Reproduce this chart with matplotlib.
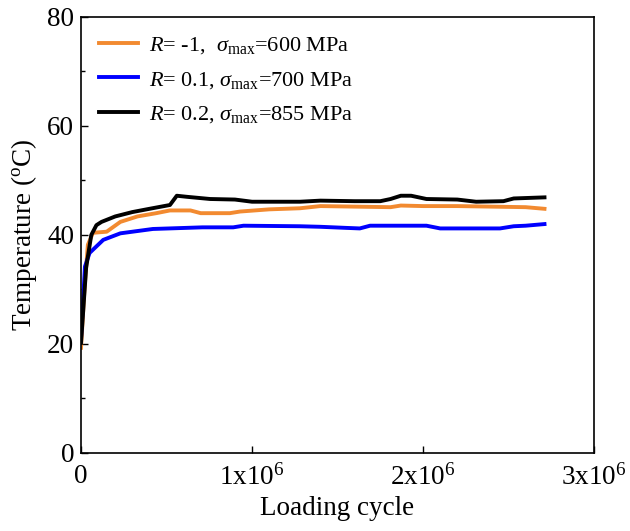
import matplotlib
matplotlib.use("Agg")
import matplotlib.pyplot as plt
from matplotlib.ticker import FixedLocator, MultipleLocator

plt.rcParams['font.family'] = ['Liberation Serif', 'DejaVu Serif']
plt.rcParams['mathtext.fontset'] = 'custom'
plt.rcParams['mathtext.rm'] = 'Liberation Serif'
plt.rcParams['mathtext.it'] = 'Liberation Serif:italic'
plt.rcParams['mathtext.bf'] = 'Liberation Serif:bold'

# Data (cycles in units of 1e6, temperature in °C)
x_orange = [0.0, 0.02, 0.04, 0.07, 0.15, 0.23, 0.33, 0.44, 0.52, 0.64, 0.70, 0.87, 0.93, 1.1, 1.28, 1.4,
            1.6, 1.81, 1.87, 2.0, 2.2, 2.4, 2.6, 2.71]
y_orange = [19.3, 30.0, 38.2, 40.4, 40.6, 42.4, 43.4, 44.0, 44.5, 44.5, 44.0, 44.0, 44.3, 44.7, 44.9, 45.3,
            45.2, 45.1, 45.4, 45.3, 45.3, 45.2, 45.1, 44.8]

x_blue = [0.0, 0.023, 0.05, 0.13, 0.23, 0.42, 0.71, 0.89, 0.95, 1.28, 1.4, 1.55, 1.63, 1.69, 1.9, 2.02,
          2.1, 2.3, 2.45, 2.53, 2.6, 2.71]
y_blue = [21.0, 34.2, 36.7, 39.1, 40.3, 41.1, 41.4, 41.4, 41.7, 41.6, 41.5, 41.3, 41.2, 41.7, 41.7, 41.7,
          41.2, 41.2, 41.2, 41.6, 41.7, 42.0]

x_black = [0.0, 0.03, 0.06, 0.09, 0.12, 0.2, 0.3, 0.4, 0.52, 0.56, 0.62, 0.755, 0.9, 1.0, 1.28, 1.4, 1.6, 1.75,
           1.81, 1.87, 1.93, 2.02, 2.2, 2.31, 2.47, 2.53, 2.71]
y_black = [20.2, 34.0, 40.0, 41.8, 42.4, 43.4, 44.2, 44.8, 45.5, 47.2, 47.0, 46.6, 46.5, 46.1, 46.1, 46.3, 46.2, 46.2,
           46.6, 47.2, 47.2, 46.6, 46.5, 46.1, 46.2, 46.7, 46.9]

labels = [r'$R$= -1,  $\sigma_{\rm max}$=600 MPa',
          r'$R$= 0.1, $\sigma_{\rm max}$=700 MPa',
          r'$R$= 0.2, $\sigma_{\rm max}$=855 MPa']
colors = ['#F28A30', '#0000FF', '#000000']

xticks = [0, 1e6, 2e6, 3e6]
xticklabels = ['0', r'1x10$^6$', r'2x10$^6$', r'3x10$^6$']
yticks = [0, 20, 40, 60, 80]

fig = plt.figure(figsize=(6.3, 5.31), dpi=100)
ax = fig.add_axes([0.1286, 0.147, 0.8144, 0.821])

for xs, ys, c, lab in zip([x_orange, x_blue, x_black], [y_orange, y_blue, y_black], colors, labels):
    ax.plot([v * 1e6 for v in xs], ys, color=c, lw=2.8, label=lab)

ax.set_xlim(0, 3e6)
ax.set_ylim(0, 80)
ax.xaxis.set_major_locator(FixedLocator(xticks))
ax.set_xticklabels(xticklabels)
ax.yaxis.set_major_locator(FixedLocator(yticks))
ax.yaxis.set_minor_locator(MultipleLocator(10))
ax.tick_params(which='both', direction='in', labelsize=19.5)
ax.tick_params(which='major', length=5, width=1)
ax.tick_params(which='minor', length=3, width=1)
ax.tick_params(axis='x', pad=8)
ax.tick_params(axis='y', pad=5)
for s in ax.spines.values():
    s.set_linewidth(1.2)

ax.set_xlabel('Loading cycle', fontsize=19.5, labelpad=4)
ax.set_ylabel(r'Temperature ($^{\rm o}$C)', fontsize=19.5, labelpad=6)

ax.legend(loc='upper left', frameon=False, fontsize=16, handlelength=1.75,
          bbox_to_anchor=(0.0, 1.0), borderaxespad=0.4, labelspacing=0.62, handletextpad=0.5)

fig.savefig('out.png', dpi=100)
